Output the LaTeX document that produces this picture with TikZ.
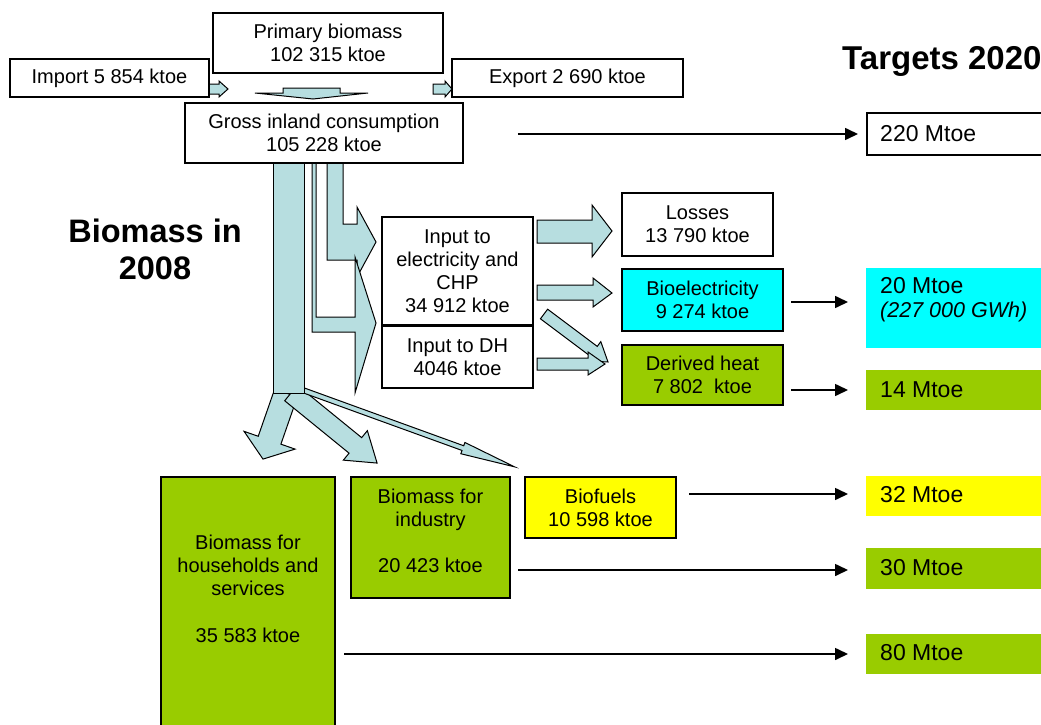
\documentclass[tikz,border=0pt]{standalone}
\usepackage{fontspec}
\setmainfont{Liberation Sans}
\usetikzlibrary{arrows.meta,calc}
\definecolor{flowc}{RGB}{183,222,224}
\definecolor{grn}{RGB}{153,204,0}
\definecolor{cyn}{RGB}{0,255,255}
\definecolor{ylw}{RGB}{255,255,0}
\tikzset{
  flow/.style={fill=flowc, draw=black, line width=1pt, line join=miter},
  box/.style={draw=black, line width=1.5pt, inner sep=0pt, align=center, font=\fontsize{20}{23}\selectfont},
  wbox/.style={box, fill=white},
  cbox/.style={box, line width=2pt},
  txt/.style={inner sep=0pt, align=center, font=\fontsize{20}{23}\selectfont},
  tbox/.style={inner sep=0pt, minimum width=190, anchor=west},
  ttxt/.style={anchor=west, align=left, inner sep=0pt, font=\fontsize{23}{24}\selectfont},
  tarrow/.style={line width=1.6pt, -{Triangle[length=13pt,width=12pt]}},
  bigtitle/.style={inner sep=0pt, align=center, font=\bfseries\fontsize{32.5}{37}\selectfont}
}
\newcommand{\blockarr}[7]{%
  \begin{scope}[shift={(#1,#2)}, rotate=#3]
    \filldraw[flow] (0,-#5) -- ({#4-#7},-#5) -- ({#4-#7},-#6) -- (#4,0) -- ({#4-#7},#6) -- ({#4-#7},#5) -- (0,#5) -- cycle;
  \end{scope}}
\begin{document}
\begin{tikzpicture}[x=1pt,y=-1pt]
\useasboundingbox (0,0) rectangle (1041,725);

% --- top flows
\filldraw[flow] (208,84) -- (219,84) -- (219,81) -- (228,89) -- (219,97) -- (219,94) -- (208,94) -- cycle;
\filldraw[flow] (433,84) -- (445,84) -- (445,81) -- (452,89) -- (445,97) -- (445,94) -- (433,94) -- cycle;
\filldraw[flow] (283,88) -- (340,88) -- (340,93) -- (368,93) -- (313,99) -- (255,93) -- (283,93) -- cycle;

% --- branch arrows to electricity / DH
\filldraw[flow] (327,160) -- (327,260) -- (357,260) -- (357,277) -- (376,242) -- (357,207) -- (357,224) -- (343,224) -- (343,160) -- cycle;
\filldraw[flow] (312,160) -- (312,332) -- (355,332) -- (355,393) -- (376,323) -- (355,257) -- (355,317) -- (316,317) -- (316,160) -- cycle;

% --- arrows from the trunk bottom
\blockarr{286}{393}{-109.2}{70}{12}{27}{20}
\blockarr{291}{393}{-39.15}{111}{10}{19}{28}
\blockarr{304}{390.5}{-19.93}{224}{2.5}{6}{55}
% trunk
\filldraw[flow] (273,160) rectangle (304,393);

% --- arrows out of the conversion boxes
\filldraw[flow] (537,220) -- (592,220) -- (592,205) -- (612,231) -- (592,257) -- (592,243) -- (537,243) -- cycle;
\filldraw[flow] (537,285) -- (593,285) -- (593,278) -- (612,293) -- (593,307) -- (593,300) -- (537,300) -- cycle;
\blockarr{544}{314}{-36.87}{80}{6}{12}{18}
\filldraw[flow] (537,358) -- (588,358) -- (588,352) -- (605,364) -- (588,375) -- (588,370) -- (537,370) -- cycle;

% --- boxes
\node[wbox, minimum width=230, minimum height=60] (prim) at (328,43) {Primary biomass\\102 315 ktoe};
\node[wbox, minimum width=199, minimum height=38] (imp) at (109.5,78) {Import 5 854 ktoe};
\node[wbox, minimum width=231, minimum height=38] (exp) at (567.5,78) {Export 2 690 ktoe};
\node[wbox, minimum width=278, minimum height=60] (gross) at (324,133) {Gross inland consumption\\105 228 ktoe};

\node[cbox, fill=white, minimum width=151, minimum height=108] (chp) at (457.5,271) {Input to\\electricity and\\CHP\\34 912 ktoe};
\node[cbox, fill=white, minimum width=151, minimum height=62] (dh) at (457.5,357) {Input to DH\\4046 ktoe};

\node[wbox, minimum width=151, minimum height=63] (loss) at (697.5,224.5) {Losses\\13 790 ktoe};
\node[cbox, fill=cyn, minimum width=161, minimum height=62] (bioel) at (702.5,300) {Bioelectricity\\9 274 ktoe};
\node[cbox, fill=grn, minimum width=161, minimum height=60] (dheat) at (702.5,375) {Derived heat\\7 802~~ktoe};

\node[cbox, fill=ylw, minimum width=151, minimum height=61] (biof) at (600.5,507.5) {Biofuels\\10 598 ktoe};
\node[cbox, fill=grn, minimum width=159, minimum height=121] (ind) at (430.5,537.5) {};
\node[txt] (indt) at (430.5,530.5) {Biomass for\\industry\\[23pt]20 423 ktoe};
\node[cbox, fill=grn, minimum width=174, minimum height=270] (hh) at (248,612) {};
\node[txt] (hht) at (248,588.5) {Biomass for\\households and\\services\\[24pt]35 583 ktoe};

% --- titles
\node[bigtitle] (bio2008) at (155,249.5) {Biomass in\\2008};
\node[inner sep=0pt, anchor=west, font=\bfseries\fontsize{33}{37}\selectfont] (targets) at (842,61) {Targets 2020};

% --- targets 2020
\node[tbox, draw=black, fill=white, line width=1.5pt, minimum height=42] (t220) at (866,134) {};
\node[ttxt] (t220t) at (880,134) {220 Mtoe};
\node[tbox, fill=cyn, minimum height=80] (t20) at (866,308) {};
\node[ttxt] (t20t) at (880,300) {20 Mtoe\\\fontsize{21.5}{24}\selectfont\textit{(227 000 GWh)}};
\node[tbox, fill=grn, minimum height=40] (t14) at (866,390) {};
\node[ttxt] (t14t) at (880,390) {14 Mtoe};
\node[tbox, fill=ylw, minimum height=40] (t32) at (866,496) {};
\node[ttxt] (t32t) at (880,495) {32 Mtoe};
\node[tbox, fill=grn, minimum height=41] (t30) at (866,568.5) {};
\node[ttxt] (t30t) at (880,568) {30 Mtoe};
\node[tbox, fill=grn, minimum height=40] (t80) at (866,654) {};
\node[ttxt] (t80t) at (880,653) {80 Mtoe};

% --- target arrows
\draw[tarrow, shorten <=54, shorten >=8] (gross.east |- t220.west) -- (t220.west);
\draw[tarrow, shorten <=7, shorten >=18] (bioel.east |- 0,302) -- (t20.west |- 0,302);
\draw[tarrow, shorten <=7, shorten >=18] (dheat.east |- t14.west) -- (t14.west);
\draw[tarrow, shorten <=12, shorten >=18] (biof.east |- 0,494) -- (t32.west |- 0,494);
\draw[tarrow, shorten <=7, shorten >=18] (ind.east |- 0,570) -- (t30.west |- 0,570);
\draw[tarrow, shorten <=8, shorten >=18] (hh.east |- t80.west) -- (t80.west);
\end{tikzpicture}
\end{document}
